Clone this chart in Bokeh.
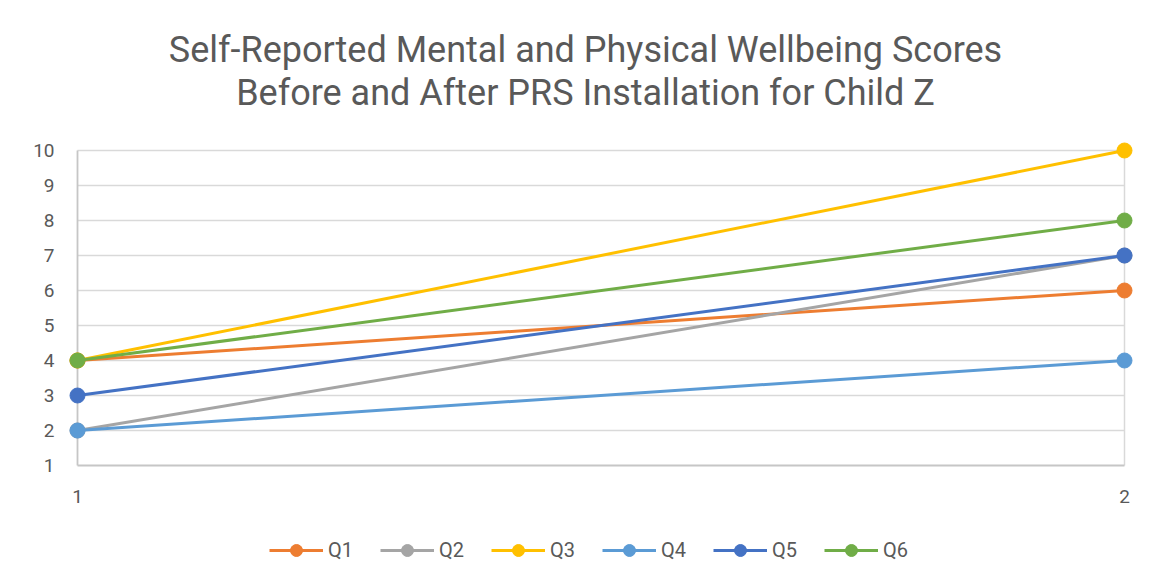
from bokeh.plotting import figure
from bokeh.models import (ColumnDataSource, Legend, LegendItem, Label, FixedTicker,
                          Range1d)
from bokeh.core.properties import value
from bokeh.embed import file_html
from bokeh.resources import INLINE

# ---- data ----
stages = [1, 2]
q1 = [4, 6]
q2 = [2, 7]
q3 = [4, 10]
q4 = [2, 4]
q5 = [3, 7]
q6 = [4, 8]
series_names = ["Q1", "Q2", "Q3", "Q4", "Q5", "Q6"]
series_values = [q1, q2, q3, q4, q5, q6]
colors = ["#ED7D31", "#A5A5A5", "#FFC000", "#5B9BD5", "#4472C4", "#70AD47"]
y_ticks = [1, 2, 3, 4, 5, 6, 7, 8, 9, 10]
x_ticks = [1, 2]
x_tick_labels = ["1", "2"]
title_lines = ["Self-Reported Mental and Physical Wellbeing Scores",
               "Before and After PRS Installation for Child Z"]

FONT = "Roboto"
TXT = "#595959"

W, H = 1150, 588
LEFT = 68                      # y-axis panel width
X0_PX, X1_PX = 77, 1124        # pixel columns of first/last category
Y_TOP_PX, Y_BOT_PX = 150, 465  # pixel rows of y max / y min
xs = (X1_PX - X0_PX) / (x_ticks[-1] - x_ticks[0])
ys = (Y_BOT_PX - Y_TOP_PX) / (y_ticks[-1] - y_ticks[0])
x_range = Range1d(x_ticks[0] - (X0_PX - LEFT) / xs, x_ticks[0] + (W - X0_PX) / xs)
y_range = Range1d(y_ticks[0] - (H - Y_BOT_PX) / ys, y_ticks[0] + Y_BOT_PX / ys)

p = figure(width=W, height=H, output_backend="svg", toolbar_location=None,
           x_range=x_range, y_range=y_range,
           min_border_left=LEFT, min_border_right=0, min_border_top=0,
           min_border_bottom=0)
p.outline_line_color = None
p.xgrid.visible = False
p.ygrid.visible = False
p.xaxis.visible = False
p.background_fill_color = "white"
p.border_fill_color = "white"

# gridlines limited to the category span
grid_src = ColumnDataSource(dict(y=y_ticks[1:],
                                 x0=[x_ticks[0]] * (len(y_ticks) - 1),
                                 x1=[x_ticks[-1]] * (len(y_ticks) - 1)))
p.segment(x0="x0", x1="x1", y0="y", y1="y", source=grid_src,
          line_color="#d9d9d9", line_width=1.5)
p.segment(x0=[x_ticks[-1]], x1=[x_ticks[-1]], y0=[y_ticks[0]], y1=[y_ticks[-1]],
          line_color="#d9d9d9", line_width=1.5)
p.segment(x0=[x_ticks[0]], x1=[x_ticks[0]], y0=[y_ticks[0]], y1=[y_ticks[-1]],
          line_color="#c6c6c6", line_width=1.8)
p.segment(x0=[x_ticks[0]], x1=[x_ticks[-1]], y0=[y_ticks[0]], y1=[y_ticks[0]],
          line_color="#c6c6c6", line_width=1.8)

items = []
for name, vals, c in zip(series_names, series_values, colors):
    src = ColumnDataSource(dict(x=stages, y=vals))
    lr = p.line("x", "y", source=src, line_color=c, line_width=3)
    sr = p.scatter("x", "y", source=src, size=15, fill_color=c, line_color=c)
    items.append(LegendItem(label=name, renderers=[lr, sr]))

# y axis (real)
ya = p.yaxis[0]
ya.ticker = FixedTicker(ticks=y_ticks)
ya.axis_line_color = None
ya.major_tick_line_color = None
ya.minor_tick_line_color = None
ya.major_tick_out = 0
ya.major_tick_in = 0
ya.major_label_standoff = 14
ya.major_label_text_font = FONT
ya.major_label_text_font_size = "19px"
ya.major_label_text_color = TXT

# x category labels under the bottom line
p.text(x=x_ticks, y=[y_ticks[0]] * len(x_ticks), text=x_tick_labels,
       text_align="center", text_baseline="alphabetic", y_offset=31,
       text_font=value(FONT), text_font_size="19px", text_color=TXT)

# legend
legend = Legend(items=items, orientation="horizontal", location=(201, 23),
                glyph_width=54, glyph_height=30, label_standoff=5, spacing=27,
                padding=0, margin=0, border_line_color=None,
                background_fill_alpha=0,
                label_text_font=FONT, label_text_font_size="20px",
                label_text_color=TXT)
p.add_layout(legend, "center")

# two-line title
for line, base_px in zip(title_lines, [49, 92]):
    p.add_layout(Label(x=585 - LEFT, y=H - base_px, x_units="screen",
                       y_units="screen", text=line, text_align="center",
                       text_baseline="alphabetic", text_font=FONT,
                       text_font_size="36px", text_color=TXT))

open("out.html", "w").write(file_html(p, INLINE))
